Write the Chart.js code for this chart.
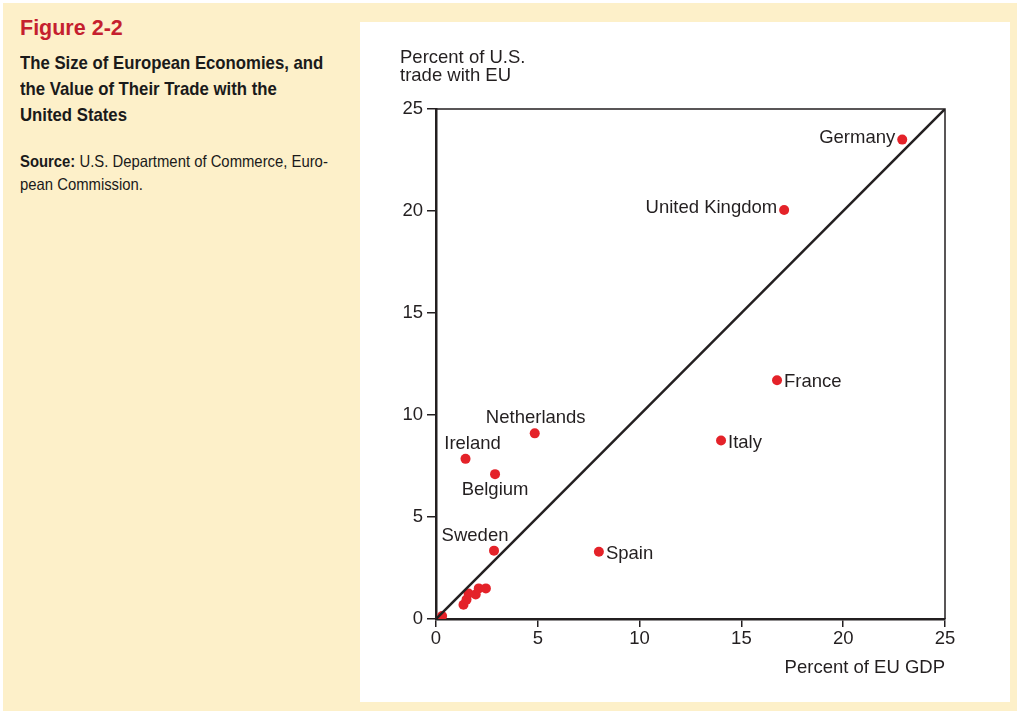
<!DOCTYPE html>
<html>
<head>
<meta charset="utf-8">
<script src="https://cdn.jsdelivr.net/npm/chart.js@4.4.1/dist/chart.umd.min.js"></script>
<style>
  body { margin: 0; width: 1017px; height: 711px; background: #fff; overflow: hidden; }
  #page { position: absolute; left: 3px; top: 3px; width: 1014px; height: 708px; background: #fdf0c9; }
  #side { position: absolute; left: 17px; top: 13px; width: 400px; font-family: "Liberation Sans", Arial, sans-serif; color: #1a1a1a; }
  #fig { font-weight: bold; color: #c5202e; font-size: 21.5px; margin-bottom: 9px; }
  #title, #source { transform-origin: left top; white-space: nowrap; }
  #title { transform: scaleX(0.905); font-weight: bold; font-size: 18.5px; line-height: 26px; }
  #source { transform: scaleX(0.9); font-size: 16.5px; line-height: 23px; margin-top: 22px; }
  #panel { position: absolute; left: 357px; top: 19px; width: 650px; height: 680px; background: #fff; }
</style>
</head>
<body>
<div id="page">
  <div id="side">
    <div id="fig">Figure 2-2</div>
    <div id="title">The Size of European Economies, and<br>the Value of Their Trade with the<br>United States</div>
    <div id="source"><b>Source:</b> U.S. Department of Commerce, Euro-<br>pean Commission.</div>
  </div>
  <div id="panel"><canvas id="scatterChart" width="650" height="680"></canvas></div>
</div>
<script>
// data
const countries = ['Germany', 'United Kingdom', 'France', 'Italy', 'Spain', 'Netherlands', 'Ireland', 'Belgium', 'Sweden', '', '', '', '', '', '', ''];
const gdpShare = [22.9, 17.1, 16.75, 14.0, 8.0, 4.85, 1.45, 2.9, 2.85, 0.3, 1.35, 1.5, 1.6, 1.95, 2.1, 2.45];
const tradeShare = [23.5, 20.05, 11.7, 8.75, 3.3, 9.1, 7.85, 7.1, 3.35, 0.15, 0.7, 0.95, 1.25, 1.2, 1.5, 1.5];
const axisTicks = [0, 5, 10, 15, 20, 25];

// where each name sits relative to its dot
const placement = {
    'Germany': 'left', 'United Kingdom': 'left', 'France': 'right', 'Italy': 'right',
    'Spain': 'right', 'Netherlands': 'above', 'Ireland': 'above', 'Belgium': 'below', 'Sweden': 'above'
};

const FONT = '"Liberation Sans", Arial, sans-serif';
const INK = '#231f20';

const labelPlugin = {
    id: 'labels',
    afterDatasetsDraw(chart) {
        const ctx = chart.ctx;
        const xs = chart.scales.x, ys = chart.scales.y;
        const a = chart.chartArea;
        ctx.save();
        // top and right frame
        ctx.strokeStyle = INK;
        ctx.lineWidth = 1.5;
        ctx.beginPath();
        ctx.moveTo(a.left, a.top);
        ctx.lineTo(a.right, a.top);
        ctx.lineTo(a.right, a.bottom);
        ctx.stroke();

        ctx.fillStyle = INK;
        ctx.font = '18.5px ' + FONT;
        countries.forEach((name, i) => {
            if (!name) return;
            const px = xs.getPixelForValue(gdpShare[i]);
            const py = ys.getPixelForValue(tradeShare[i]);
            const p = placement[name];
            if (p === 'left') { ctx.textAlign = 'right'; ctx.textBaseline = 'middle'; ctx.fillText(name, px - 7, py - 2); }
            if (p === 'right') { ctx.textAlign = 'left'; ctx.textBaseline = 'middle'; ctx.fillText(name, px + 7, py + 2); }
            if (p === 'above') {
                ctx.textAlign = 'center'; ctx.textBaseline = 'bottom';
                const dx = name === 'Sweden' ? -19 : (name === 'Ireland' ? 7 : 1);
                ctx.fillText(name, px + dx, py - 6);
            }
            if (p === 'below') { ctx.textAlign = 'center'; ctx.textBaseline = 'top'; ctx.fillText(name, px, py + 6); }
        });

        // axis titles
        ctx.textAlign = 'left';
        ctx.textBaseline = 'alphabetic';
        ctx.fillText('Percent of U.S.', a.left - 36, a.top - 46);
        ctx.fillText('trade with EU', a.left - 36, a.top - 28);
        ctx.textAlign = 'right';
        ctx.fillText('Percent of EU GDP', a.right, a.bottom + 54);
        ctx.restore();
    }
};

const ctx = document.getElementById('scatterChart').getContext('2d');
new Chart(ctx, {
    type: 'scatter',
    data: {
        datasets: [
            {
                type: 'line',
                data: [{ x: 0, y: 0 }, { x: 25, y: 25 }],
                borderColor: INK,
                borderWidth: 2.5,
                pointRadius: 0
            },
            {
                data: gdpShare.map((v, i) => ({ x: v, y: tradeShare[i] })),
                backgroundColor: '#e42229',
                borderWidth: 0,
                pointRadius: 5
            }
        ]
    },
    options: {
        responsive: false,
        animation: false,
        layout: { padding: { top: 87, right: 65, bottom: 38, left: 0 } },
        plugins: { legend: { display: false }, tooltip: { enabled: false } },
        scales: {
            x: {
                type: 'linear', min: 0, max: 25,
                afterBuildTicks: s => { s.ticks = axisTicks.map(v => ({ value: v })); },
                afterFit: s => { s.height = 45; },
                grid: { drawOnChartArea: false, drawTicks: true, tickLength: 8, color: INK, lineWidth: 1.5 },
                border: { display: true, color: INK, width: 2.5 },
                ticks: { color: INK, font: { family: FONT, size: 18.5 }, padding: 1, maxRotation: 0 }
            },
            y: {
                type: 'linear', min: 0, max: 25,
                afterBuildTicks: s => { s.ticks = axisTicks.map(v => ({ value: v })); },
                afterFit: s => { s.width = 76; },
                grid: { drawOnChartArea: false, drawTicks: true, tickLength: 9, color: INK, lineWidth: 1.5 },
                border: { display: true, color: INK, width: 2.5 },
                ticks: { color: INK, font: { family: FONT, size: 18.5 }, padding: 4 }
            }
        }
    },
    plugins: [labelPlugin]
});
</script>
</body>
</html>
